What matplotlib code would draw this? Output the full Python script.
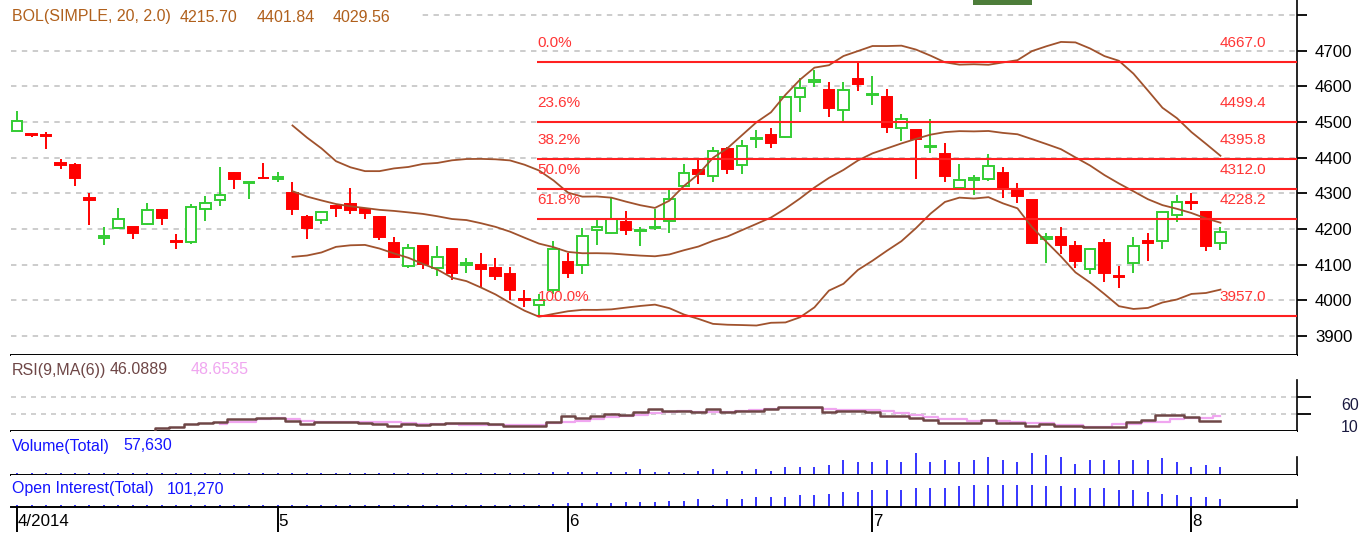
import matplotlib
matplotlib.use('Agg')
import matplotlib.pyplot as plt
import matplotlib.transforms as mtransforms
from matplotlib.patches import Rectangle
from matplotlib import font_manager
import pandas as pd

W, H, DPI = 1371, 536, 100

names = {f.name for f in font_manager.fontManager.ttflist}
NARROW = 'Liberation Sans Narrow' in names
FONT = 'Liberation Sans Narrow' if NARROW else 'Liberation Sans'
plt.rcParams['font.family'] = [FONT, 'DejaVu Sans']
K = 1.2 if NARROW else 1.0   # size factor if a narrow face exists

# ---------------- data ----------------
opens = [4475, 4466, 4463, 4384, 4380, 4287, 4174, 4203, 4205, 4213,
         4254, 4167, 4163, 4257, 4281, 4356, 4330, 4343, 4339, 4301,
         4234, 4226, 4264, 4270, 4256, 4235, 4162, 4096, 4153, 4092,
         4143, 4100, 4100, 4090, 4074, 4004, 3986, 4030, 4108, 4098,
         4196, 4190, 4221, 4194, 4204, 4223, 4321, 4366, 4350, 4424,
         4380, 4452, 4464, 4457, 4569, 4613, 4590, 4534, 4620, 4576,
         4571, 4482, 4478, 4429, 4410, 4316, 4338, 4340, 4356, 4311,
         4280, 4171, 4177, 4152, 4087, 4162, 4069, 4104, 4166, 4165,
         4239, 4277, 4249, 4162]
highs = [4530, 4467, 4471, 4395, 4385, 4301, 4205, 4258, 4206, 4273,
         4254, 4187, 4269, 4292, 4375, 4361, 4332, 4385, 4361, 4333,
         4239, 4251, 4268, 4315, 4259, 4237, 4177, 4158, 4153, 4153,
         4144, 4118, 4134, 4118, 4094, 4030, 4017, 4165, 4132, 4202,
         4226, 4287, 4251, 4207, 4255, 4309, 4381, 4398, 4429, 4431,
         4450, 4478, 4484, 4570, 4623, 4646, 4613, 4613, 4667, 4629,
         4592, 4523, 4478, 4508, 4440, 4381, 4352, 4410, 4373, 4328,
         4280, 4190, 4207, 4167, 4148, 4171, 4096, 4177, 4188, 4250,
         4294, 4302, 4249, 4205]
lows = [4474, 4459, 4424, 4367, 4322, 4212, 4154, 4203, 4173, 4212,
        4212, 4143, 4158, 4222, 4265, 4313, 4284, 4341, 4331, 4240,
        4173, 4215, 4233, 4243, 4228, 4170, 4118, 4091, 4087, 4068,
        4058, 4078, 4038, 4058, 4002, 3981, 3957, 4018, 4063, 4073,
        4155, 4185, 4183, 4151, 4197, 4190, 4320, 4326, 4331, 4354,
        4354, 4426, 4426, 4455, 4529, 4597, 4515, 4503, 4588, 4548,
        4470, 4448, 4339, 4412, 4333, 4314, 4295, 4336, 4286, 4272,
        4159, 4106, 4130, 4090, 4074, 4052, 4034, 4078, 4111, 4144,
        4219, 4252, 4139, 4141]
closes = [4504, 4464, 4461, 4379, 4342, 4281, 4181, 4229, 4188, 4253,
          4232, 4164, 4263, 4272, 4296, 4339, 4332, 4342, 4345, 4255,
          4202, 4247, 4259, 4252, 4245, 4179, 4121, 4146, 4102, 4122,
          4078, 4104, 4087, 4068, 4028, 4000, 4000, 4143, 4077, 4181,
          4205, 4229, 4197, 4197, 4207, 4283, 4356, 4354, 4420, 4368,
          4433, 4455, 4442, 4569, 4595, 4618, 4538, 4590, 4607, 4579,
          4485, 4508, 4452, 4433, 4349, 4338, 4342, 4377, 4312, 4293,
          4160, 4177, 4155, 4109, 4143, 4078, 4066, 4152, 4162, 4249,
          4277, 4273, 4151, 4191]

rsi_start = 9
rsi_vals = [39.6, 41.6, 42.2, 44.1, 44.5, 45.5, 46.9, 46.9, 47.8, 47.8,
            46.1, 44.3, 45.1, 45.5, 45.5, 44.9, 43.9, 42.8, 43.9, 43.7,
            44.3, 44.5, 44.5, 44.5, 44.3, 43.1, 42.9, 42.9, 45.5, 48.8,
            47.5, 49.0, 49.8, 49.4, 51.4, 52.8, 51.8, 51.8, 51.4, 52.9,
            51.0, 51.8, 51.8, 52.8, 53.9, 53.9, 53.9, 51.4, 51.9, 51.9,
            51.0, 49.0, 49.0, 47.8, 46.5, 44.9, 44.9, 44.9, 46.5, 44.9,
            44.9, 42.9, 44.1, 42.8, 42.8, 42.5, 42.5, 42.5, 45.5, 46.5,
            49.4, 49.4, 48.4, 46.1, 46.09]
ma_start = 14
ma_vals = [43.9, 45.1, 45.5, 46.9, 47.5, 46.9, 46.1, 45.3, 45.3, 45.3,
           45.3, 45.3, 45.3, 44.5, 43.9, 43.9, 43.9, 43.3, 43.3, 43.3,
           43.3, 43.3, 43.3, 44.9, 45.3, 46.1, 47.3, 48.1, 48.8, 49.4,
           50.6, 51.2, 51.8, 51.4, 51.4, 51.4, 51.8, 52.4, 52.8, 53.3,
           53.3, 53.3, 52.8, 52.4, 52.4, 52.4, 51.8, 50.6, 49.4, 48.2,
           47.1, 47.1, 46.1, 46.1, 46.1, 45.3, 44.5, 44.5, 43.5, 43.5,
           42.5, 42.5, 44.1, 44.1, 45.5, 45.5, 47.1, 47.6, 47.6, 48.65]

volume = [18000, 18000, 18000, 18000, 18000, 18000, 18000, 18000, 18000, 18000,
          18000, 18000, 18000, 18000, 18000, 18000, 18000, 18000, 18000, 18000,
          18000, 18000, 18000, 18000, 18000, 18000, 18000, 18000, 18000, 18000,
          18000, 18000, 18000, 18000, 18000, 18000, 18000, 21600, 25200, 21600,
          25200, 25200, 25200, 41000, 25200, 25200, 18000, 31000, 43200, 31000,
          31000, 43200, 31000, 57600, 55500, 57600, 69900, 108000, 93700, 93700,
          108000, 93700, 156000, 93700, 108000, 93700, 108000, 132000, 108000, 93700,
          156000, 142000, 132000, 81400, 108000, 108000, 108000, 108000, 108000, 120000,
          93700, 57600, 69900, 57630]
open_interest = [30500, 30500, 30500, 30500, 30500, 30500, 30500, 30500, 30500, 30500,
                 30500, 30500, 30500, 30500, 30500, 30500, 30500, 30500, 30500, 30500,
                 30500, 30500, 30500, 30500, 30500, 30500, 30500, 30500, 30500, 30500,
                 30500, 30500, 30500, 30500, 30500, 30500, 30500, 36600, 48800, 48800,
                 48800, 48800, 61000, 61000, 61000, 73200, 73200, 101300, 20700, 101300,
                 101300, 122000, 122000, 122000, 146400, 146400, 162300, 183000, 183000, 203700,
                 203700, 203700, 231800, 231800, 231800, 252500, 272100, 272100, 272100, 272100,
                 272100, 252500, 252500, 231800, 231800, 231800, 203700, 203700, 183000, 162300,
                 142700, 122000, 122000, 101270]

month_idx = [0, 18, 38, 59, 81]
month_labels = ['4/2014', '5', '6', '7', '8']
price_ticks = [3900, 4000, 4100, 4200, 4300, 4400, 4500, 4600, 4700, 4800]
fib_ratios = [0.0, 0.236, 0.382, 0.5, 0.618, 1.0]
bol_texts = ['BOL(SIMPLE, 20, 2.0)', '4215.70', '4401.84', '4029.56']
rsi_texts = ['RSI(9,MA(6))', '46.0889', '48.6535']
vol_texts = ['Volume(Total)', '57,630']
oi_texts = ['Open Interest(Total)', '101,270']

# ---------------- style ----------------
GREEN = '#33cc33'
RED = '#ff0000'
BROWN = '#a0522d'
FIBRED = '#ff2020'
FIBTXT = '#ff3535'
GRID = '#c8c8c8'
HEAD = '#b0601c'
BLUE = '#1414ff'
RSI_C = '#6e4646'
MA_C = '#f0a6f0'
FS = 11.5 * K
FS_TICK = 12.2 * K
FS_FIB = 11.0 * K

fig = plt.figure(figsize=(W / DPI, H / DPI), dpi=DPI)


def px_axes(left, top, right, bottom):
    return fig.add_axes([left / W, 1 - bottom / H, (right - left) / W, (bottom - top) / H])


def ptext(x, y, s, **kw):
    kw.setdefault('fontsize', FS)
    kw.setdefault('va', 'center')
    fig.text(x / W, 1 - y / H, s, **kw)


XL = (-0.414, 88.28)
n = len(closes)
idx = list(range(n))

# ---------------- main price panel ----------------
ax = px_axes(11, 0, 1297, 355)
ax.set_xlim(*XL)
ax.set_ylim(3846.7, 4842.2)
for sp in ['left', 'top']:
    ax.spines[sp].set_visible(False)
ax.spines['right'].set_linewidth(1.2)
ax.spines['bottom'].set_linewidth(1.4)
ax.set_xticks([])
ax.yaxis.tick_right()
ax.set_yticks(price_ticks)
ax.set_yticklabels([str(t) if t < 4800 else '' for t in price_ticks])
ax.tick_params(axis='y', length=7, width=1.3, pad=6, labelsize=FS_TICK)
ax.yaxis.grid(True, linestyle=(0, (3, 3)), color=GRID, linewidth=1.3)
ax.set_axisbelow(True)
# header background hides the grid behind the indicator caption
ax.add_patch(Rectangle((0, 1 - 27 / 355), (422 - 11) / 1286, 22 / 355, transform=ax.transAxes,
                       facecolor='white', edgecolor='none', zorder=1))

BW = 0.74
for i, (o, h, l, c) in enumerate(zip(opens, highs, lows, closes)):
    up = c >= o
    col = GREEN if up else RED
    ax.vlines(i, l, h, color=col, linewidth=1.4, zorder=2)
    lo, hi = min(o, c), max(o, c)
    hgt = max(hi - lo, 0.8)
    ax.add_patch(Rectangle((i - BW / 2, lo), BW, hgt,
                           facecolor='white' if up else RED,
                           edgecolor=col, linewidth=1.4, zorder=3))

# Bollinger bands from closes
s = pd.Series(closes, dtype=float)
mid = s.rolling(20).mean()
sd = s.rolling(20).std(ddof=0)
for band in (mid, mid + 2 * sd, mid - 2 * sd):
    ax.plot(idx, band, color=BROWN, linewidth=1.3, zorder=4)

# Fibonacci retracement
hi_i = max(idx, key=lambda k: highs[k])
lo_i = min(idx, key=lambda k: lows[k])
fhigh, flow = highs[hi_i], lows[lo_i]
start = min(hi_i, lo_i) - 0.15
lab_off = mtransforms.offset_copy(ax.transData, fig=fig, x=0, y=19, units='dots')
val_tr = mtransforms.blended_transform_factory(ax.transAxes, lab_off)
for r in fib_ratios:
    lvl = fhigh - r * (fhigh - flow)
    ax.hlines(lvl, start, XL[1], color=FIBRED, linewidth=1.5, zorder=5)
    ax.text(start + 0.05, lvl, f'{r * 100:.1f}%', transform=lab_off, color=FIBTXT,
            fontsize=FS_FIB, va='center', ha='left', zorder=6)
    ax.text((1266 - 11) / 1286, lvl, f'{lvl:.1f}', transform=val_tr, color=FIBTXT,
            fontsize=FS_FIB, va='center', ha='right', zorder=6)

# header texts
ptext(12, 17, bol_texts[0], color=HEAD)
ptext(180, 17, bol_texts[1], color=HEAD)
ptext(257, 17, bol_texts[2], color=HEAD)
ptext(333, 17, bol_texts[3], color=HEAD)

# small green box at top
fig.patches.append(Rectangle((973 / W, 1 - 5 / H), 59 / W, 5 / H, transform=fig.transFigure,
                             facecolor='#4d7d3a', edgecolor='none'))

# ---------------- RSI panel ----------------
ar = px_axes(11, 355, 1297, 431)
ar.set_xlim(*XL)
ar.set_ylim(40, 84.7)
for sp in ['left', 'top']:
    ar.spines[sp].set_visible(False)
ar.spines['right'].set_bounds(40, 70)
ar.spines['right'].set_linewidth(1.2)
ar.spines['bottom'].set_linewidth(1.4)
ar.set_xticks([])
ar.yaxis.tick_right()
ar.set_yticks([60, 50])
ar.set_yticklabels([])
ar.tick_params(axis='y', length=10, width=1.3)
ar.yaxis.grid(True, linestyle=(0, (3, 3)), color=GRID, linewidth=1.2)
ar.set_axisbelow(True)
ar.plot(range(ma_start, ma_start + len(ma_vals)), ma_vals, color=MA_C, linewidth=1.6,
        drawstyle='steps-mid', zorder=3)
ar.plot(range(rsi_start, rsi_start + len(rsi_vals)), rsi_vals, color=RSI_C, linewidth=1.8,
        drawstyle='steps-mid', zorder=4)
ptext(1341, 406, '60', color='#1a1a40')
ptext(1341, 428, '10', color='#1a1a40')
ptext(12, 370, rsi_texts[0], color=RSI_C)
ptext(110, 370, rsi_texts[1], color=RSI_C)
ptext(191, 370, rsi_texts[2], color=MA_C)

# ---------------- Volume panel ----------------
av = px_axes(11, 431, 1297, 475)
av.set_xlim(*XL)
av.set_ylim(0, 44 * 7204)
for sp in ['left', 'top']:
    av.spines[sp].set_visible(False)
av.spines['right'].set_bounds(0, 18 * 7204)
av.spines['right'].set_linewidth(1.2)
av.spines['bottom'].set_linewidth(1.4)
av.set_xticks([])
av.set_yticks([])
av.vlines(idx, 0, volume, color='#0000ff', linewidth=1.1)
ptext(12, 446, vol_texts[0], color=BLUE)
ptext(123, 446, vol_texts[1], color=BLUE)

# ---------------- Open interest panel ----------------
ao = px_axes(11, 475, 1297, 507)
ao.set_xlim(*XL)
ao.set_ylim(0, 32 * 12200)
for sp in ['left', 'top']:
    ao.spines[sp].set_visible(False)
ao.spines['right'].set_bounds(0, 7 * 12200)
ao.spines['right'].set_linewidth(1.2)
ao.spines['bottom'].set_linewidth(1.4)
ao.set_yticks([])
ao.vlines(idx, 0, open_interest, color='#0000ff', linewidth=1.1)
ao.set_xticks(month_idx)
ao.set_xticklabels([])
ao.tick_params(axis='x', length=18, width=1.4, direction='out', color='black')
lab_tr = mtransforms.blended_transform_factory(ao.transData, fig.transFigure)
for i, lab in zip(month_idx, month_labels):
    ao.text(i + 0.05, 1 - 521 / H, lab, transform=lab_tr, fontsize=FS_TICK, color='black',
            ha='left', va='center')
ptext(12, 489, oi_texts[0], color=BLUE)
ptext(167, 489, oi_texts[1], color=BLUE)

fig.savefig('out.png', dpi=DPI)
